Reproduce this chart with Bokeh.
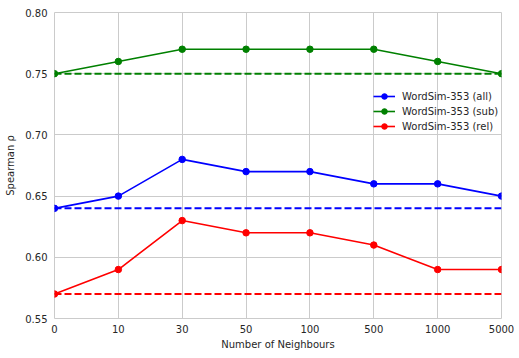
from bokeh.plotting import figure
from bokeh.models import FixedTicker, Range1d, Legend, LegendItem
from bokeh.embed import file_html
from bokeh.resources import INLINE

neighbours = ["0", "10", "30", "50", "100", "500", "1000", "5000"]
all_vals = [0.64, 0.65, 0.68, 0.67, 0.67, 0.66, 0.66, 0.65]
sub_vals = [0.75, 0.76, 0.77, 0.77, 0.77, 0.77, 0.76, 0.75]
rel_vals = [0.57, 0.59, 0.63, 0.62, 0.62, 0.61, 0.59, 0.59]
all_base = 0.64
sub_base = 0.75
rel_base = 0.57
series_names = ["WordSim-353 (all)", "WordSim-353 (sub)", "WordSim-353 (rel)"]
y_ticks = [0.55, 0.60, 0.65, 0.70, 0.75, 0.80]

xs = list(range(len(neighbours)))
FONT = "DejaVu Sans"
TXT = "#262626"
GRID = "#cbcbcb"

p = figure(width=519, height=358, output_backend="svg", toolbar_location=None,
           x_range=Range1d(0, len(neighbours) - 1), y_range=Range1d(0.55, 0.80),
           min_border_left=54, min_border_right=18, min_border_top=12, min_border_bottom=40)
p.background_fill_color = "white"
p.border_fill_color = "white"
p.outline_line_color = GRID
p.outline_line_width = 1

p.xaxis.ticker = FixedTicker(ticks=xs)
p.xaxis.major_label_overrides = {i: n for i, n in enumerate(neighbours)}
p.yaxis.ticker = FixedTicker(ticks=y_ticks)
p.yaxis.major_label_overrides = {t: f"{t:.2f}" for t in y_ticks}
for ax in (p.xaxis, p.yaxis):
    ax.axis_line_color = None
    ax.major_tick_line_color = None
    ax.minor_tick_line_color = None
    ax.major_tick_in = 0
    ax.major_tick_out = 0
    ax.minor_tick_in = 0
    ax.minor_tick_out = 0
    ax.major_label_text_font = FONT
    ax.major_label_text_font_size = "10px"
    ax.major_label_text_color = TXT
    ax.axis_label_text_font = FONT
    ax.axis_label_text_font_size = "10px"
    ax.axis_label_text_font_style = "normal"
    ax.axis_label_text_color = TXT
p.xaxis.major_label_standoff = 6
p.yaxis.major_label_standoff = 7
p.xaxis.axis_label = "Number of Neighbours"
p.yaxis.axis_label = "Spearman \u03c1"
p.xaxis.axis_label_standoff = 3
p.yaxis.axis_label_standoff = 6
p.grid.grid_line_color = GRID
p.grid.grid_line_width = 1

colors = ["#0000ff", "#008000", "#ff0000"]
items = []
for vals, base, col, name in zip([all_vals, sub_vals, rel_vals], [all_base, sub_base, rel_base], colors, series_names):
    l = p.line(xs, vals, line_color=col, line_width=1.6)
    c = p.scatter(xs, vals, size=6.5, fill_color=col, line_color=col)
    p.line([xs[0], xs[-1]], [base, base], line_color=col, line_width=2, line_dash="7 3")
    items.append(LegendItem(label=name, renderers=[l, c]))

legend = Legend(items=items, location=(319, 185), background_fill_alpha=0, border_line_color=None,
                label_text_font=FONT, label_text_font_size="10px", label_text_color=TXT,
                glyph_width=22, glyph_height=14, spacing=1, label_standoff=7, padding=4, margin=0)
p.add_layout(legend)

open("out.html", "w").write(file_html(p, INLINE))
